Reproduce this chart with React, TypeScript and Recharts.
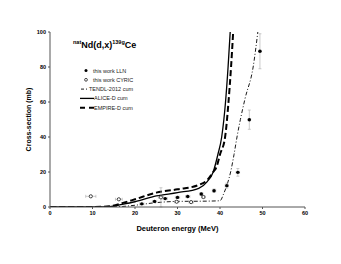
import { ComposedChart, Line, Scatter, ErrorBar, XAxis, YAxis } from 'recharts';

const xTicks = [0, 10, 20, 30, 40, 50, 60];
const yTicks = [0, 20, 40, 60, 80, 100];

const aliceE = [0, 5, 10, 14, 17, 20, 25, 30, 35, 37, 38.4, 39.5, 40.4, 41.3, 41.9, 42.4];
const aliceY = [0, 0, 0, 0.2, 1.5, 3.0, 6.3, 8.2, 10.7, 14.5, 20, 30, 40, 60, 80, 100];

const empireE = [0, 5, 10, 14, 17, 20, 25, 30, 35, 37, 38.4, 39.2, 40, 41.2, 42, 42.6, 43.1];
const empireY = [0, 0, 0, 0.4, 2.2, 4.4, 8.2, 10.1, 12.6, 15.4, 20, 23, 30, 40, 60, 80, 100];

const tendlE = [0, 10, 15, 17, 20, 25, 30, 35, 38, 40, 40.9, 41.7, 42.5, 43.3, 44.0, 44.8, 45.9, 47.8, 48.9];
const tendlY = [0, 0, 0.1, 0.3, 1, 2.5, 3.2, 3.3, 3.4, 3.6, 7.8, 13.0, 20, 30, 40, 50, 62, 80, 100];

const llnE = [21.6, 24.6, 27.1, 30.0, 32.4, 35.6, 38.6, 41.6, 44.2, 46.9, 49.4];
const llnY = [1.8, 3.2, 4.8, 5.5, 6.0, 7.4, 9.3, 12.2, 19.8, 49.9, 89];
const llnDE = [0.5, 0.5, 0.5, 0.5, 0.5, 0.4, 0.4, 0.4, 0.4, 0.3, 0.3];
const llnDY = [0.3, 0.4, 0.6, 0.6, 0.7, 0.8, 1.0, 1.4, 2.2, 5.5, 10];

const cyricE = [9.6, 16.2, 26.1, 29.8, 33.2, 36.1];
const cyricY = [6.1, 4.4, 5.5, 3.0, 2.8, 5.7];
const cyricDE = [1.2, 0.8, 0.6, 0.5, 0.5, 0.4];
const cyricDY = [0.5, 0.4, 5.5, 0.4, 0.3, 0.5];

const toPts = (xs: number[], ys: number[]) => xs.map((x, i) => ({ x, y: ys[i] }));
const alice = toPts(aliceE, aliceY);
const empire = toPts(empireE, empireY);
const tendl = toPts(tendlE, tendlY);
const lln = llnE.map((x, i) => ({ x, y: llnY[i], ex: llnDE[i], ey: llnDY[i] }));
const cyric = cyricE.map((x, i) => ({ x, y: cyricY[i], ex: cyricDE[i], ey: cyricDY[i] }));

const font = '"Liberation Sans", Arial, sans-serif';
const tick = { fill: '#000', fontSize: 5.5, fontWeight: 700, fontFamily: font };

const Filled = (p: any) => <circle cx={p.cx} cy={p.cy} r={1.7} fill="#000" />;
const Hollow = (p: any) => <circle cx={p.cx} cy={p.cy} r={1.6} fill="#fff" stroke="#000" strokeWidth={0.7} />;

const legendRows = [
  { label: 'this work LLN', kind: 'filled' },
  { label: 'this work CYRIC', kind: 'hollow' },
  { label: 'TENDL-2012 cum', kind: 'tendl' },
  { label: 'ALICE-D cum', kind: 'alice' },
  { label: 'EMPIRE-D cum', kind: 'empire' },
];

export default function App() {
  return (
    <div style={{ position: 'absolute', left: 0, top: 0, width: 341, height: 264, background: '#fff', fontFamily: font }}>
      <ComposedChart width={341} height={264} margin={{ top: 32, right: 36, bottom: 0, left: 0 }}>
        <XAxis
          type="number"
          dataKey="x"
          xAxisId="b"
          domain={[0, 60]}
          ticks={xTicks}
          tick={tick}
          tickSize={2}
          stroke="#555"
          height={57}
          label={{ value: 'Deuteron energy (MeV)', position: 'insideTop', offset: 19, fill: '#000', fontSize: 7.5, fontWeight: 700 }}
        />
        <XAxis type="number" xAxisId="t" orientation="top" domain={[0, 60]} tick={false} tickLine={false} stroke="#999" height={0} />
        <YAxis
          type="number"
          dataKey="y"
          yAxisId="l"
          domain={[0, 100]}
          ticks={yTicks}
          allowDataOverflow
          tick={tick}
          tickSize={2}
          stroke="#555"
          width={50}
          label={{ value: 'Cross-section (mb)', angle: -90, position: 'insideLeft', offset: 29, fill: '#000', fontSize: 7, fontWeight: 700, style: { textAnchor: 'middle' } }}
        />
        <YAxis type="number" yAxisId="r" orientation="right" domain={[0, 100]} tick={false} tickLine={false} stroke="#999" width={0} />
        <Line xAxisId="b" yAxisId="l" data={tendl} dataKey="y" type="monotone" stroke="#000" strokeWidth={0.9} strokeDasharray="4 2 1 2" dot={false} isAnimationActive={false} />
        <Line xAxisId="b" yAxisId="l" data={alice} dataKey="y" type="monotone" stroke="#000" strokeWidth={1.3} dot={false} isAnimationActive={false} />
        <Line xAxisId="b" yAxisId="l" data={empire} dataKey="y" type="monotone" stroke="#000" strokeWidth={2} strokeDasharray="6 3" dot={false} isAnimationActive={false} />
        <Scatter xAxisId="b" yAxisId="l" data={cyric} dataKey="y" shape={Hollow} isAnimationActive={false}>
          <ErrorBar dataKey="ex" direction="x" stroke="#aaa" strokeWidth={0.6} width={1.5} />
          <ErrorBar dataKey="ey" direction="y" stroke="#aaa" strokeWidth={0.6} width={1.5} />
        </Scatter>
        <Scatter xAxisId="b" yAxisId="l" data={lln} dataKey="y" shape={Filled} isAnimationActive={false}>
          <ErrorBar dataKey="ex" direction="x" stroke="#aaa" strokeWidth={0.6} width={1.5} />
          <ErrorBar dataKey="ey" direction="y" stroke="#aaa" strokeWidth={0.6} width={1.5} />
        </Scatter>
      </ComposedChart>

      <div style={{ position: 'absolute', left: 73, top: 39, fontSize: 9, fontWeight: 700, whiteSpace: 'nowrap' }}>
        <sup style={{ fontSize: 5.5 }}>nat</sup>Nd(d,x)<sup style={{ fontSize: 5.5 }}>139g</sup>Ce
      </div>

      <svg style={{ position: 'absolute', left: 0, top: 0 }} width={341} height={264}>
        {legendRows.map((r, i) => {
          const y = 70.5 + i * 9.3;
          return (
            <g key={r.label}>
              {r.kind === 'filled' && <circle cx={86} cy={y} r={1.5} fill="#000" />}
              {r.kind === 'hollow' && <circle cx={86} cy={y} r={1.4} fill="#fff" stroke="#000" strokeWidth={0.7} />}
              {r.kind === 'tendl' && <line x1={81} x2={89} y1={y} y2={y} stroke="#000" strokeWidth={0.9} strokeDasharray="3 2 1 2" />}
              {r.kind === 'alice' && <line x1={80} x2={94} y1={y} y2={y} stroke="#000" strokeWidth={1.3} />}
              {r.kind === 'empire' && <line x1={80} x2={94} y1={y} y2={y} stroke="#000" strokeWidth={2} strokeDasharray="5 4" />}
              <text
                x={r.kind === 'filled' || r.kind === 'hollow' ? 93 : r.kind === 'tendl' ? 89 : 94}
                y={y + 2}
                fontSize={5.5}
                fontFamily={font}
                fill="#222"
              >
                {r.label}
              </text>
            </g>
          );
        })}
      </svg>
    </div>
  );
}
